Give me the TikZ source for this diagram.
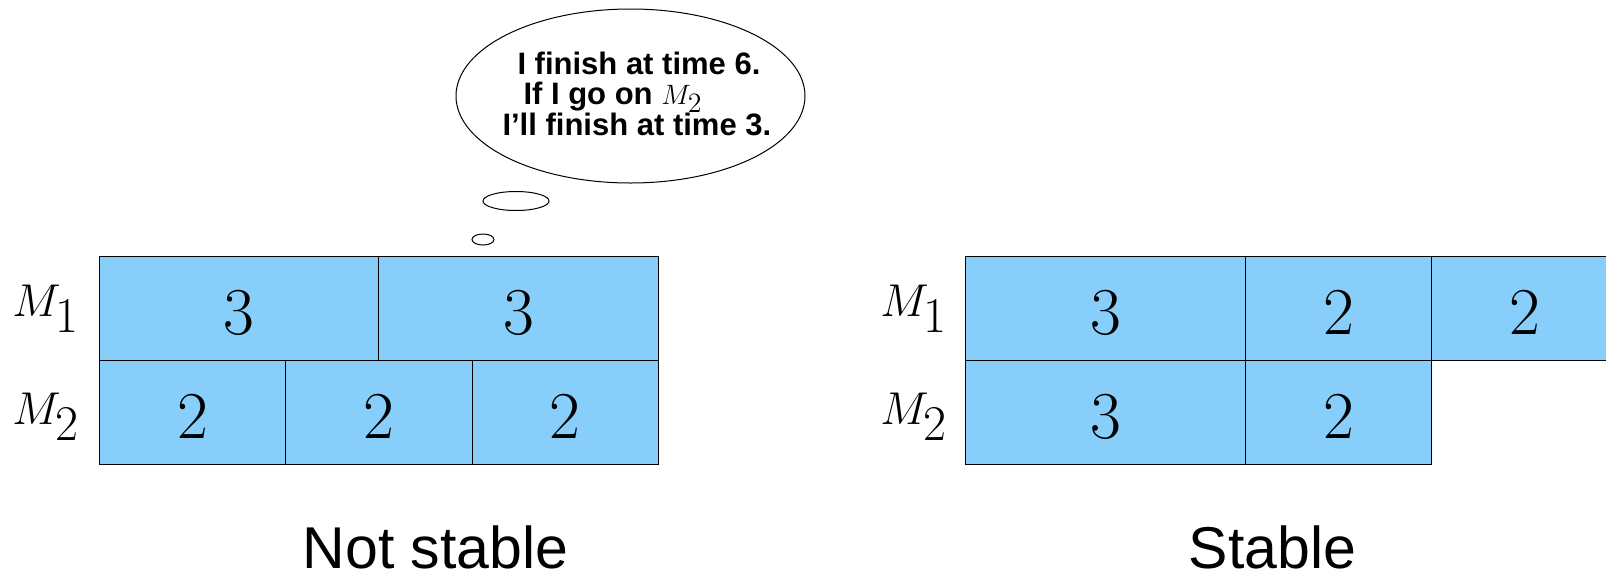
\documentclass[tikz,border=0pt]{standalone}
\usepackage{fix-cm}
\usepackage{fontspec}
\setmainfont{Liberation Sans}
\newlength{\du}
\setlength{\du}{0.5pt}
\definecolor{jobcolor}{rgb}{0.529412, 0.807843, 0.980392}
\newcommand{\dur}[1]{\raisebox{-9\du}{$#1$}}
\newcommand{\mach}[2][25]{$M_{\hbox{\fontsize{#1}{#1}\selectfont$#2$}}$}
\tikzset{
  job/.style={draw=black, fill=jobcolor, line width=0.5pt, minimum height=104\du,
    inner sep=0pt, outer sep=0pt, anchor=north west, text depth=0pt,
    font=\fontsize{33.5}{40}\selectfont},
  unit/.style={minimum width=#1*93.2\du},
  machine/.style={anchor=base west, inner sep=0pt, font=\fontsize{23}{27}\selectfont},
  saying/.style={anchor=base west, inner sep=0pt, font=\fontsize{15.5}{18}\selectfont\bfseries},
  caption/.style={anchor=base, inner sep=0pt, font=\fontsize{29.5}{34}\selectfont},
}

\begin{document}
\begin{tikzpicture}
\pgftransformxscale{1.000000}
\pgftransformyscale{-1.000000}
\useasboundingbox (0\du,0\du) rectangle (1606\du,574\du);
\clip (0\du,0\du) rectangle (1606\du,574\du);
% not stable
\node[job, unit=3] (l11) at (99.3\du,256\du) {\dur{3}};
\node[job, unit=3] (l12) at (l11.north east) {\dur{3}};
\node[job, unit=2] (l21) at (l11.south west) {\dur{2}};
\node[job, unit=2] (l22) at (l21.north east) {\dur{2}};
\node[job, unit=2] (l23) at (l22.north east) {\dur{2}};
\node[machine] (lm1) at (12\du,316\du) {\mach{1}};
\node[machine] (lm2) at (12\du,424\du) {\mach{2}};
\node[caption] (ncap) at (435.5\du,568\du) {Not stable};
% stable
\node[job, unit=3] (r11) at (965.8\du,256\du) {\dur{3}};
\node[job, unit=2] (r12) at (r11.north east) {\dur{2}};
\node[job, unit=2] (r13) at (r12.north east) {\dur{2}};
\node[job, unit=3] (r21) at (r11.south west) {\dur{3}};
\node[job, unit=2] (r22) at (r21.north east) {\dur{2}};
\node[machine] (rm1) at (880\du,316\du) {\mach{1}};
\node[machine] (rm2) at (880\du,424\du) {\mach{2}};
\node[caption] (scap) at (1272.5\du,568\du) {Stable};
% thought bubble
\pgfsetlinewidth{0.5pt}
\draw (630.5\du,96\du) ellipse [x radius=174.5\du, y radius=87\du];
\draw (516\du,201\du) ellipse [x radius=33\du, y radius=9.5\du];
\draw (483\du,239.5\du) ellipse [x radius=11\du, y radius=5.5\du];
\node[saying] (say1) at (517\du,74\du) {I finish at time 6.};
\node[saying] (say2) at (523\du,104\du) {If I go on {\fontsize{14}{16}\selectfont\mach[14]{2}}};
\node[saying] (say3) at (502\du,135\du) {I'll finish at time 3.};
\end{tikzpicture}
\end{document}
